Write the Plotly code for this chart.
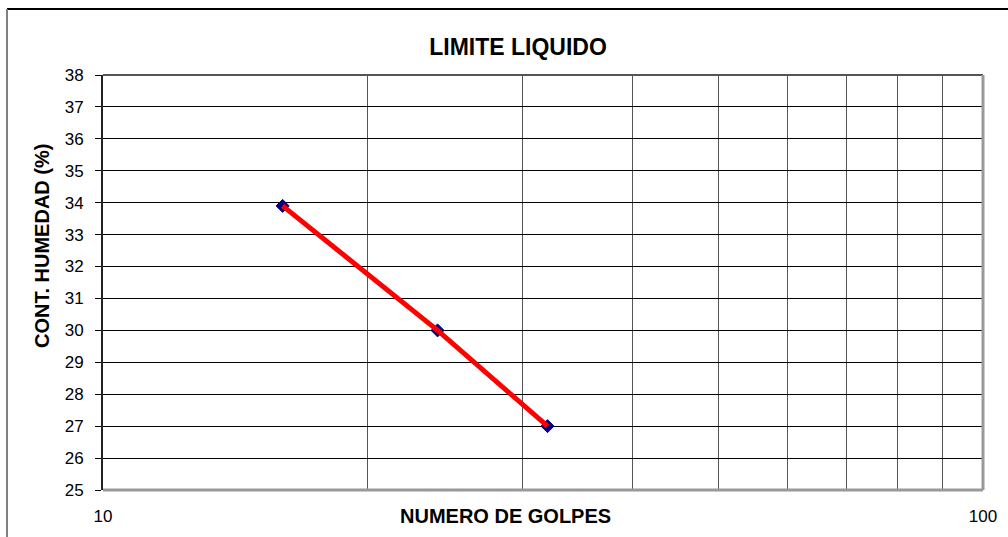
import plotly.graph_objects as go

# Liquid limit test: number of blows vs. moisture content
golpes = [16, 24, 32]
humedad = [33.9, 30.0, 27.0]

x_grid_vals = [10, 20, 30, 40, 50, 60, 70, 80, 90, 100]
x_grid_text = ["10", "", "", "", "", "", "", "", "", "100"]
y_ticks = list(range(25, 39))

FONT = "Liberation Sans, Arial, sans-serif"

W, H = 1008, 537
L, R, T, B = 103, 983, 75, 490


def px_x(p):
    return (p - L) / (R - L)


def px_y(p):
    return (B - p) / (B - T)


fig = go.Figure()

fig.add_trace(go.Scatter(
    x=golpes, y=humedad, mode="markers",
    marker=dict(symbol="diamond", size=10, color="#000080",
                line=dict(color="#000080", width=1)),
    showlegend=False, hoverinfo="x+y",
))
fig.add_trace(go.Scatter(
    x=golpes, y=humedad, mode="lines",
    line=dict(color="#FF0000", width=5),
    showlegend=False, hoverinfo="skip",
))

fig.update_layout(
    width=W, height=H,
    margin=dict(l=L, r=W - R, t=T, b=H - B),
    paper_bgcolor="white", plot_bgcolor="white",
    font=dict(family=FONT, color="black"),
    title=dict(text="<b>LIMITE LIQUIDO</b>", x=px_x(518), xref="paper",
               xanchor="center", y=1 - 47 / H, yref="container",
               yanchor="middle", font=dict(size=23, family=FONT, color="black")),
    xaxis=dict(
        type="log", range=[1, 2],
        tickvals=x_grid_vals, ticktext=x_grid_text,
        showgrid=True, gridcolor="#555555", gridwidth=1,
        ticks="", showline=False, zeroline=False,
        tickfont=dict(size=17, family=FONT, color="black"),
        ticklabelstandoff=14,
    ),
    yaxis=dict(
        range=[25, 38], tickvals=y_ticks,
        showgrid=True, gridcolor="#000000", gridwidth=1,
        ticks="outside", ticklen=6, tickcolor="#000000", tickwidth=1,
        showline=True, linecolor="#222222", linewidth=2,
        zeroline=False,
        tickfont=dict(size=17, family=FONT, color="black"),
        ticklabelstandoff=8,
    ),
    annotations=[
        dict(text="<b>CONT. HUMEDAD (%)</b>", textangle=-90,
             x=px_x(42), y=px_y(246), xref="paper", yref="paper",
             xanchor="center", yanchor="middle", showarrow=False,
             font=dict(size=20, family=FONT, color="black")),
        dict(text="<b>NUMERO DE GOLPES</b>",
             x=px_x(505), y=px_y(516), xref="paper", yref="paper",
             xanchor="center", yanchor="middle", showarrow=False,
             font=dict(size=20, family=FONT, color="black")),
    ],
    shapes=[
        # plot area frame
        dict(type="line", xref="paper", yref="paper", x0=0, x1=1, y0=1, y1=1,
             line=dict(color="#555555", width=2)),
        dict(type="line", xref="paper", yref="paper", x0=1, x1=1, y0=0, y1=1,
             line=dict(color="#999999", width=3)),
        dict(type="line", xref="paper", yref="paper", x0=0, x1=1, y0=0, y1=0,
             line=dict(color="#999999", width=3)),
        # outer chart border
        dict(type="line", xref="paper", yref="paper",
             x0=px_x(7), x1=px_x(1015), y0=px_y(9), y1=px_y(9),
             line=dict(color="#000000", width=2)),
        dict(type="line", xref="paper", yref="paper",
             x0=px_x(7), x1=px_x(7), y0=px_y(9), y1=px_y(545),
             line=dict(color="#808080", width=2)),
    ],
)

fig.write_html("out.html")
